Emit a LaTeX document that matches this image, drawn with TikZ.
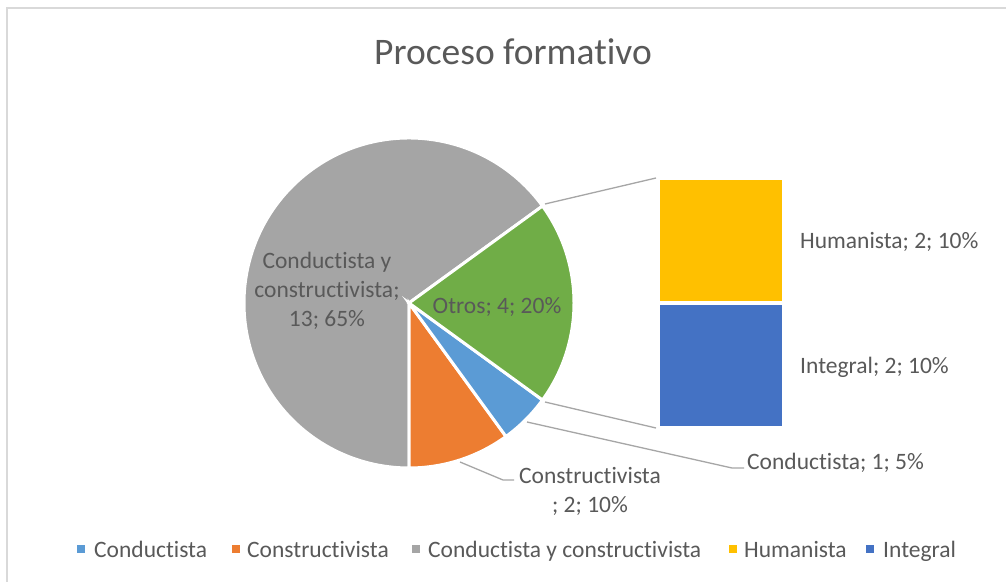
\documentclass[tikz,border=0pt]{standalone}
\usepackage{fontspec}
\setmainfont[Ligatures=NoCommon]{Carlito}
\definecolor{txt}{HTML}{595959}
\definecolor{cgray}{HTML}{A5A5A5}
\definecolor{cgreen}{HTML}{70AD47}
\definecolor{cblue}{HTML}{5B9BD5}
\definecolor{corange}{HTML}{ED7D31}
\definecolor{cyellow}{HTML}{FFC000}
\definecolor{cdblue}{HTML}{4472C4}
\definecolor{leader}{HTML}{A6A6A6}
\definecolor{frame}{HTML}{D9D9D9}
\begin{document}
\begin{tikzpicture}[x=1pt,y=1pt,
  lbl/.style={text=txt,inner sep=0pt,font=\fontsize{23.5}{29}\selectfont},
  slice/.style={draw=white,line width=3pt,line join=miter},
  lead/.style={draw=leader,line width=1.3pt},
  legsq/.style={minimum size=8pt,inner sep=0pt},
  legtx/.style={lbl,anchor=base west}]
\useasboundingbox (0,0) rectangle (1006,581);
\fill[white] (0,0) rectangle (1006,581);
\draw[frame,line width=1.5pt] (7,-5) -- (7,573) -- (1012,573);
% title
\node[text=txt,inner sep=0pt,font=\fontsize{37.5}{45}\selectfont] (title) at (513,529) {Proceso formativo};
% pie
\coordinate (c) at (409,278);
\fill[cgray,slice] (c) -- ++(36:165) arc[start angle=36,end angle=270,radius=165] -- cycle;
\fill[corange,slice] (c) -- ++(270:165) arc[start angle=270,end angle=306,radius=165] -- cycle;
\fill[cblue,slice] (c) -- ++(306:165) arc[start angle=306,end angle=324,radius=165] -- cycle;
\fill[cgreen,slice] (c) -- ++(324:165) arc[start angle=324,end angle=396,radius=165] -- cycle;
% bars
\fill[cyellow] (660,280) rectangle (782,401);
\fill[cdblue] (660,155) rectangle (782,276);
% connectors pie -> bar
\coordinate (p1) at (545,377);
\coordinate (b1) at (656,403);
\coordinate (p2) at (545,179);
\coordinate (b2) at (656,153);
\draw[lead] (p1) -- (b1);
\draw[lead] (p2) -- (b2);
% labels
\node[lbl,align=center] (gl) at (327,290) {Conductista y\\constructivista;\\13; 65\%};
\node[lbl] (ol) at (497,274) {Otros; 4; 20\%};
\node[lbl,anchor=west] (hl) at (800,339) {Humanista; 2; 10\%};
\node[lbl,anchor=west] (il) at (800,214) {Integral; 2; 10\%};
\node[lbl,anchor=west] (cl) at (747,118) {Conductista; 1; 5\%};
\node[lbl,align=center] (kl) at (590,90) {Constructivista\\; 2; 10\%};
% leaders
\coordinate (l1a) at (527,159);
\coordinate (l1b) at (732,113);
\coordinate (l1c) at (744,113);
\draw[lead] (l1a) -- (l1b) -- (l1c);
\coordinate (l2a) at (460,119);
\coordinate (l2b) at (503,101);
\coordinate (l2c) at (514,101);
\draw[lead] (l2a) -- (l2b) -- (l2c);
% legend
\node[legsq,fill=cblue] (s1) at (81,32) {};
\node[legtx] (t1) at (94,24) {Conductista};
\node[legsq,fill=corange] (s2) at (236,32) {};
\node[legtx] (t2) at (247,24) {Constructivista};
\node[legsq,fill=cgray] (s3) at (416,32) {};
\node[legtx] (t3) at (428,24) {Conductista y constructivista};
\node[legsq,fill=cyellow] (s4) at (733,32) {};
\node[legtx] (t4) at (744,24) {Humanista};
\node[legsq,fill=cdblue] (s5) at (870,32) {};
\node[legtx] (t5) at (883,24) {Integral};
\end{tikzpicture}
\end{document}
